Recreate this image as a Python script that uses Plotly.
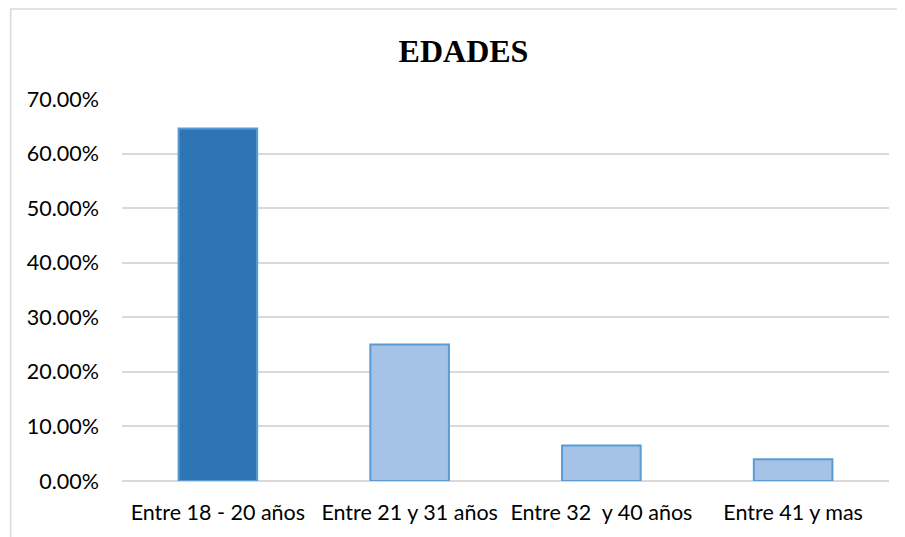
import plotly.graph_objects as go

categorias = ["Entre 18 - 20 años", "Entre 21 y 31 años", "Entre 32\u00a0 y 40 años", "Entre 41 y mas"]
porcentajes = [0.646, 0.250, 0.065, 0.040]
colores = ["#2E75B6", "#A5C2E7", "#A5C2E7", "#A5C2E7"]

# la pagina tiene 8px de margen en el body
OFF = 8
W, H = 905, 537
L, T = 121.5 - OFF, 99 - OFF
R = W - (889.5 - OFF)
B = H - (481 - OFF)
pw = W - L - R
ph = H - T - B

fig = go.Figure()
fig.add_trace(go.Bar(
    x=categorias,
    y=porcentajes,
    width=0.41,
    marker=dict(color=colores, line=dict(color="#5B9BD5", width=2)),
))

fig.update_layout(
    width=W, height=H,
    margin=dict(l=L, r=R, t=T, b=B),
    paper_bgcolor="white",
    plot_bgcolor="white",
    showlegend=False,
    font=dict(family="Lato", size=21.5, color="#000000"),
    title=dict(
        text="EDADES",
        font=dict(family="Liberation Serif", size=32, weight="bold", color="#000000"),
        x=(463.5 - OFF) / W, xanchor="center", xref="container",
        y=1 - (51 - OFF) / H, yanchor="middle", yref="container",
    ),
    xaxis=dict(
        showgrid=False, showline=False, zeroline=False,
        ticks="", ticklabelstandoff=16,
        range=[-0.5, 3.5],
    ),
    yaxis=dict(
        range=[0, 0.70], dtick=0.10, tickformat=".2%",
        showgrid=True, gridcolor="#D9D9D9", gridwidth=1.5,
        zeroline=True, zerolinecolor="#D9D9D9", zerolinewidth=1.5,
        showline=False, ticks="", ticklabelstandoff=22,
    ),
    shapes=[dict(
        type="rect", xref="paper", yref="paper",
        x0=(10 - OFF - L) / pw, x1=1.2,
        y0=-0.5, y1=(H - B - (9 - OFF)) / ph,
        line=dict(color="#D9D9D9", width=1.5),
        fillcolor="rgba(0,0,0,0)", layer="below",
    )],
)

fig.write_html("out.html")
